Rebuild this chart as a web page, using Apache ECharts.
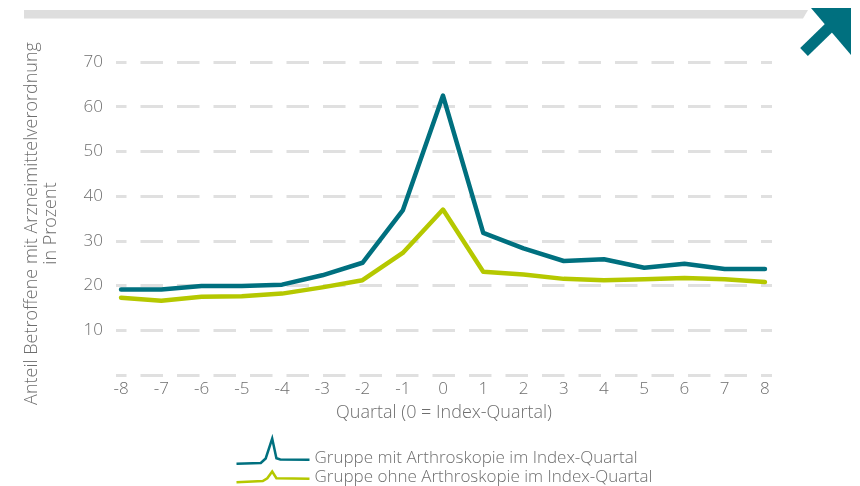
<!DOCTYPE html>
<html>
<head>
<meta charset="utf-8">
<script src="https://cdn.jsdelivr.net/npm/echarts@6/dist/echarts.min.js"></script>
<style>
html,body{margin:0;padding:0;background:#fff;}
#c{width:860px;height:486px;}
</style>
</head>
<body>
<div id="c"></div>
<script>
// ---- data ----
const quarters = [-8,-7,-6,-5,-4,-3,-2,-1,0,1,2,3,4,5,6,7,8];
const mitArthroskopie = [19.1,19.1,19.9,19.9,20.2,22.3,25.1,36.8,62.5,31.8,28.3,25.5,25.9,24.0,24.9,23.7,23.7];
const ohneArthroskopie = [17.3,16.6,17.5,17.6,18.2,19.6,21.2,27.3,37.0,23.1,22.5,21.5,21.2,21.4,21.7,21.4,20.8];
const yTicks = [0,10,20,30,40,50,60,70];
const seriesNames = ['Gruppe mit Arthroskopie im Index-Quartal','Gruppe ohne Arthroskopie im Index-Quartal'];
const xAxisName = 'Quartal (0 = Index-Quartal)';
const yAxisName = 'Anteil Betroffene mit Arzneimittelverordnung\nin Prozent';

const TEAL = '#00707f';
const LIME = '#b5c800';
const TXT = '#6e6e6e';
const FONT = "'Open Sans', sans-serif";

const pairs = (vals) => quarters.map((q,i) => [q, vals[i]]);

const chart = echarts.init(document.getElementById('c'), null, {renderer:'canvas'});
chart.setOption({
  animation:false,
  backgroundColor:'#fff',
  textStyle:{fontFamily:FONT},
  grid:{left:116, right:88, top:62, bottom:111, containLabel:false},
  xAxis:{
    type:'value', min:-8.125, max:8.175,
    axisLine:{show:false}, axisTick:{show:false}, splitLine:{show:false},
    axisLabel:{customValues:quarters, color:TXT, fontSize:17, fontWeight:300, margin:6, fontFamily:FONT},
    name:xAxisName, nameLocation:'middle', nameGap:29,
    nameTextStyle:{color:TXT, fontSize:18, fontWeight:300, fontFamily:FONT}
  },
  yAxis:{
    type:'value', min:yTicks[0], max:yTicks[yTicks.length-1], interval:10,
    axisLine:{show:false}, axisTick:{show:false},
    axisLabel:{color:TXT, fontSize:17, fontWeight:300, margin:13, fontFamily:FONT,
      formatter:(v)=> v===0 ? '' : String(v)},
    splitLine:{show:true, lineStyle:{color:'#e0e0e0', width:3, type:[22.5,14], dashOffset:12}},
    name:yAxisName, nameLocation:'middle', nameGap:56,
    nameTextStyle:{color:TXT, fontSize:18, fontWeight:300, lineHeight:19, fontFamily:FONT, align:'center', padding:[0,10,0,0]}
  },
  legend:[
    {
      left:234, top:436, padding:0, itemWidth:73, itemHeight:40, itemGap:0,
      textStyle:{color:TXT, fontSize:17, fontWeight:300, fontFamily:FONT},
      selectedMode:false,
      data:[{name:seriesNames[0],
        icon:'path://M0,40 M0,25.3 L24.3,24.5 L29.2,20 L35.7,0 L39.9,19.7 L43.8,21 L73,21.3',
        itemStyle:{color:'none', borderColor:TEAL, borderWidth:2.5}}]
    },
    {
      left:234, top:465, padding:0, itemWidth:73, itemHeight:20, itemGap:0,
      textStyle:{color:TXT, fontSize:17, fontWeight:300, fontFamily:FONT},
      selectedMode:false,
      data:[{name:seriesNames[1],
        icon:'path://M0,0 M0,20 M0,14.7 L26.3,13.6 L30.8,10.7 L35.7,4 L39.9,10.7 L73,11.3',
        itemStyle:{color:'none', borderColor:LIME, borderWidth:2.5}}]
    }
  ],
  graphic:[
    {type:'polygon', shape:{points:[[24,10],[808,10],[803,18.5],[24,18.5]]}, style:{fill:'#dedede'}, silent:true},
    {type:'polygon', shape:{points:[[811,8],[851,8],[851,55]]}, style:{fill:TEAL}, silent:true},
    {type:'line', shape:{x1:804,y1:52,x2:838,y2:19}, style:{stroke:TEAL, lineWidth:11}, silent:true}
  ],
  series:[
    {name:seriesNames[0], type:'line', data:pairs(mitArthroskopie), symbol:'none',
      lineStyle:{color:TEAL, width:4.5, cap:'round', join:'round'}, itemStyle:{color:TEAL}, z:3},
    {name:seriesNames[1], type:'line', data:pairs(ohneArthroskopie), symbol:'none',
      lineStyle:{color:LIME, width:4.5, cap:'round', join:'round'}, itemStyle:{color:LIME}, z:2}
  ]
});
</script>
</body>
</html>
